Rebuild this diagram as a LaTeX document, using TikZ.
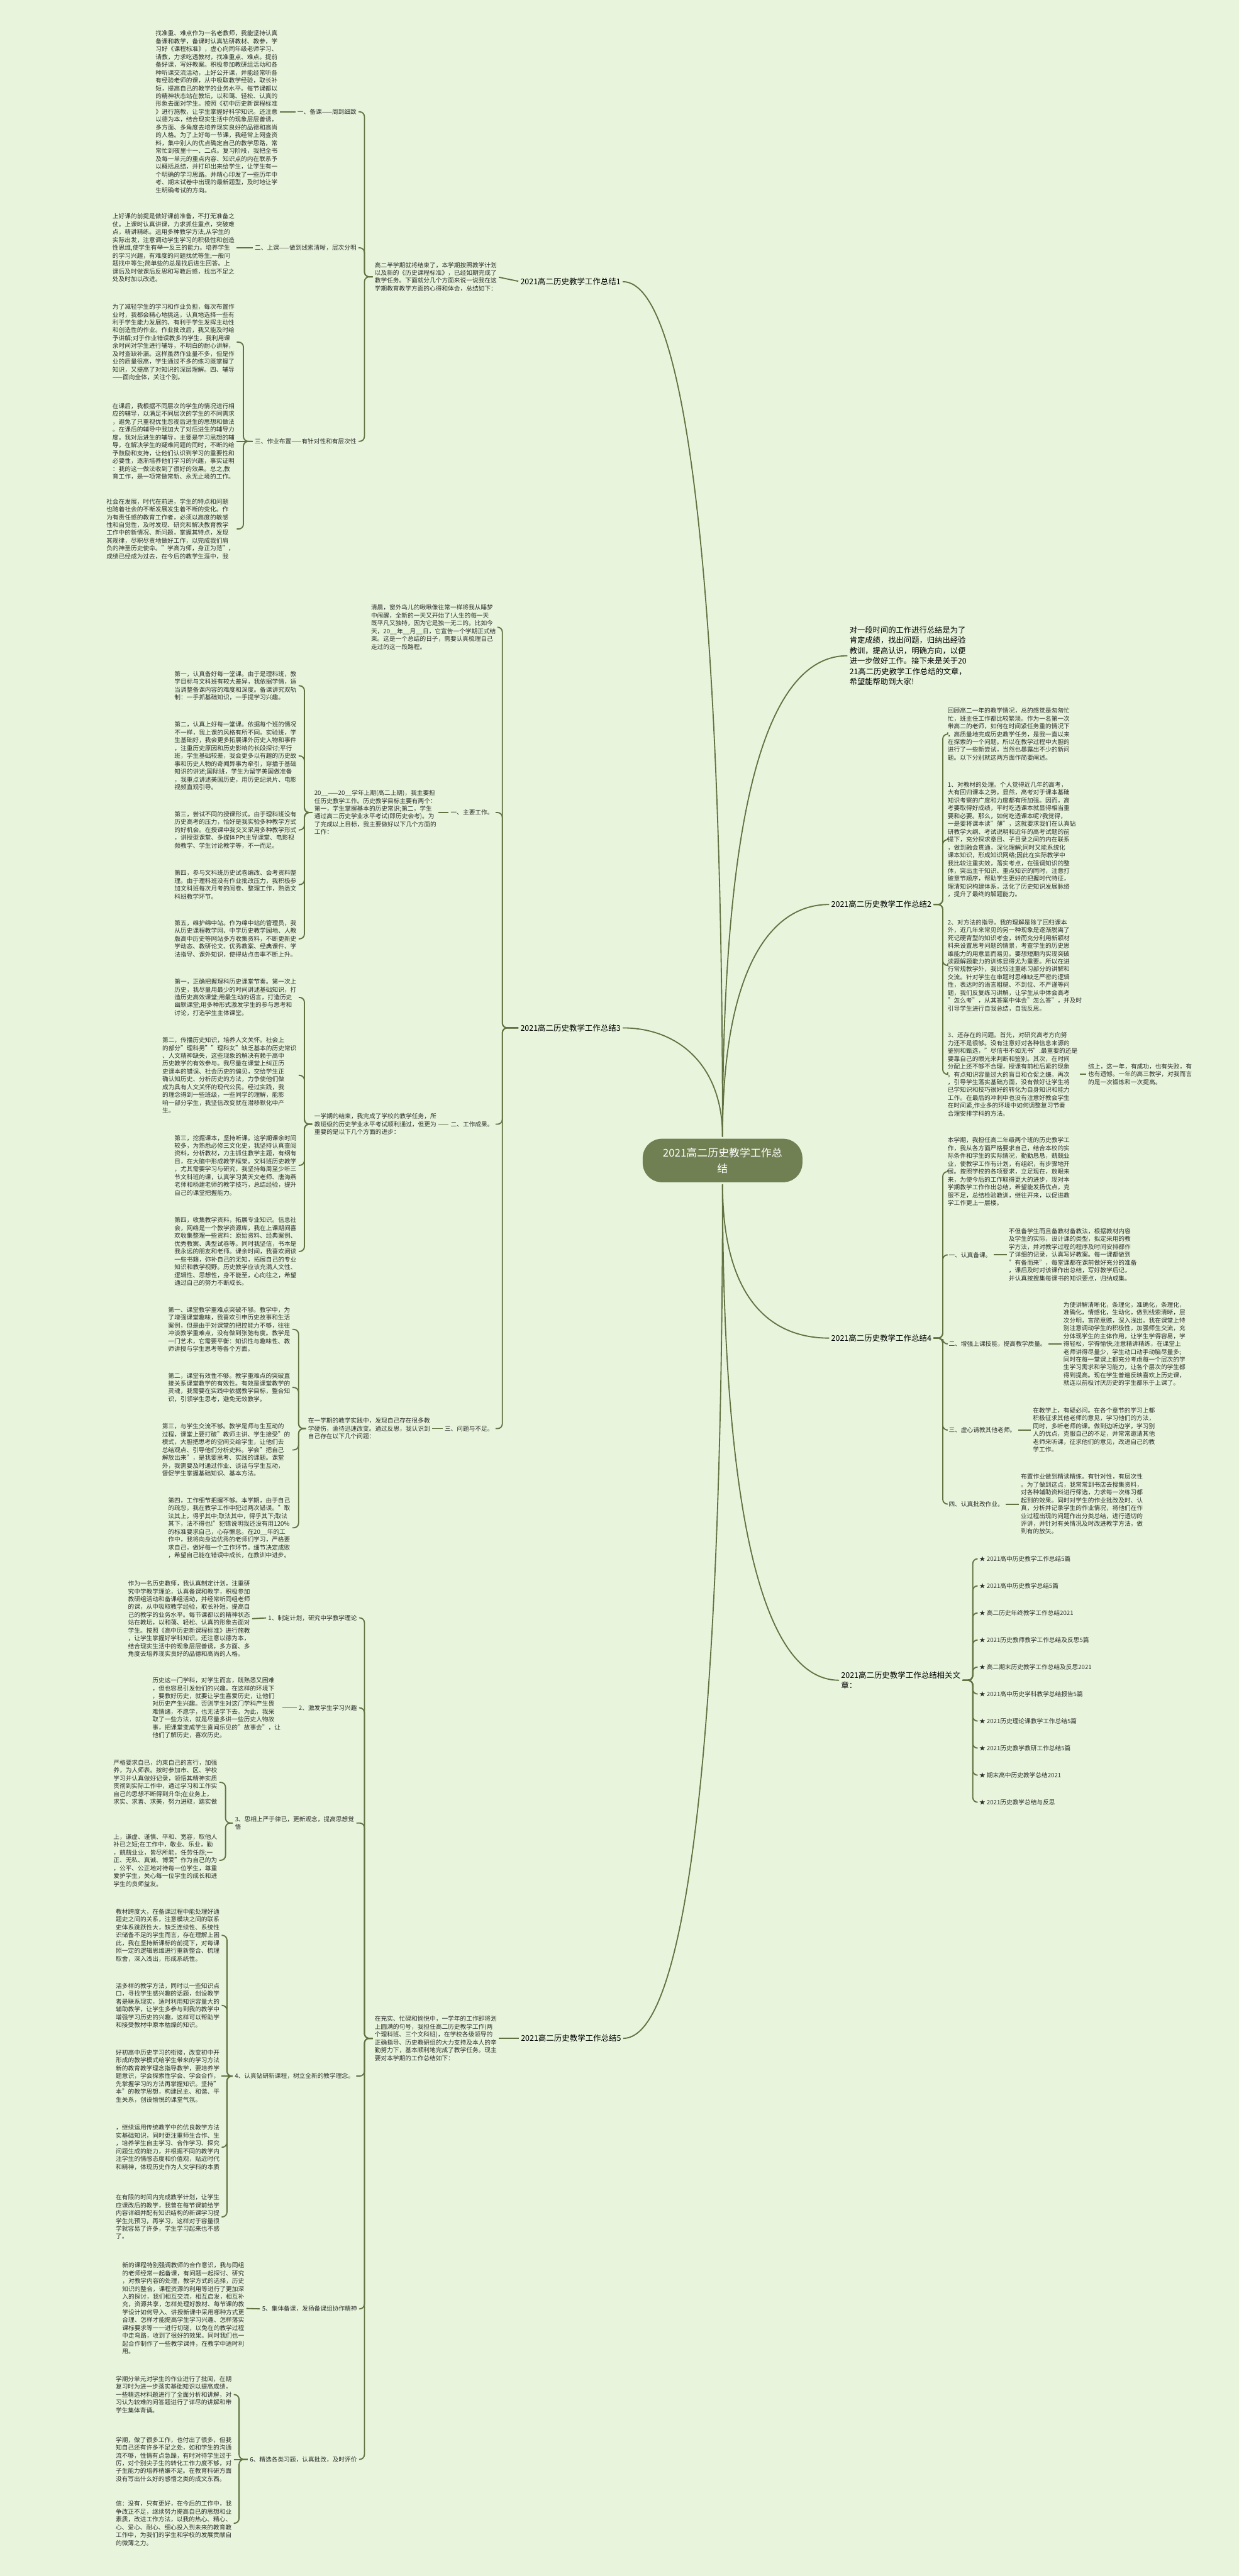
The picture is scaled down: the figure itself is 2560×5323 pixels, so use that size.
\documentclass[tikz,border=0pt]{standalone}
\usepackage{fontspec}
\setmainfont{Noto Sans CJK SC}
\usetikzlibrary{positioning}
\definecolor{bg}{RGB}{232,245,220}
\definecolor{olive}{RGB}{113,128,83}
\definecolor{wire}{RGB}{98,114,66}
\definecolor{ink}{RGB}{45,45,45}
\tikzset{
  conn/.style={draw=wire, line width=1.2pt, rounded corners=5pt, shorten <=2pt, shorten >=2pt},
  para/.style={font=\fontsize{6.3pt}{8.1pt}\selectfont, align=left, inner sep=0pt, text=ink},
  branch/.style={font=\fontsize{8.1pt}{10pt}\selectfont, align=left, inner sep=0pt, text=black},
  intro/.style={font=\fontsize{8pt}{10.7pt}\selectfont, align=left, inner sep=0pt, text=black},
  root/.style={fill=olive, text=white, rounded corners=20pt, minimum width=165pt, minimum height=45pt, align=center, inner sep=4pt, font=\fontsize{11pt}{16pt}\selectfont}
}
\begin{document}
\begin{tikzpicture}[x=0.5pt,y=-0.5pt]
\fill[bg] (0,0) rectangle (2560,5323);
\useasboundingbox (0,0) rectangle (2560,5323);

\node[root] (root) at (1493,2398) {2021高二历史教学工作总\\结};

% branch 1
\node[branch, anchor=west] (b1) at (1075,582) {2021高二历史教学工作总结1};
\node[para, anchor=west] (b1p) at (774,572) {高二半学期就将结束了，本学期按照教学计划\\以及新的《历史课程标准》，已经如期完成了\\教学任务。下面就分几个方面来说一说我在这\\学期教育教学方面的心得和体会，总结如下：};
\coordinate (b1k) at (753,572);
\node[para, anchor=east] (b1l1) at (737,231) {一、备课——周到细致};
\node[para, anchor=east] (b1l2) at (737,512) {二、上课——做到线索清晰，层次分明};
\node[para, anchor=east] (b1l3) at (737,912) {三、作业布置——有针对性和有层次性};
\node[para, anchor=east] (a1) at (574,231) {找准重、难点作为一名老教师，我能坚持认真\\备课和教学，备课时认真钻研教材、教参，学\\习好《课程标准》，虚心向同年级老师学习、\\请教，力求吃透教材，找准重点、难点。提前\\备好课，写好教案。积极参加教研组活动和各\\种听课交流活动，上好公开课，并能经常听各\\有经验老师的课，从中吸取教学经验，取长补\\短，提高自己的教学的业务水平。每节课都以\\的精神状态站在教坛，以和蔼、轻松、认真的\\形象去面对学生。按照《初中历史新课程标准\\》进行施教，让学生掌握好科学知识。还注意\\以德为本，结合现实生活中的现象层层善诱，\\多方面、多角度去培养现实良好的品德和高尚\\的人格。为了上好每一节课，我经常上网查资\\料，集中别人的优点确定自己的教学思路，常\\常忙到夜里十一、二点。复习阶段，我把全书\\及每一单元的重点内容、知识点的内在联系予\\以概括总结，并打印出来给学生，让学生有一\\个明确的学习思路。并精心印发了一些历年中\\考、期末试卷中出现的最新题型，及时地让学\\生明确考试的方向。};
\node[para, anchor=east] (a2) at (485,512) {上好课的前提是做好课前准备，不打无准备之\\仗。上课时认真讲课，力求抓住重点，突破难\\点，精讲精练。运用多种教学方法,从学生的\\实际出发，注意调动学生学习的积极性和创造\\性思维,使学生有举一反三的能力。培养学生\\的学习兴趣，有难度的问题找优等生;一般问\\题找中等生;简单些的总是找后进生回答。上\\课后及时做课后反思和写教后感，找出不足之\\处及时加以改进。};
\coordinate (b1l3k) at (503,912);
\node[para, anchor=east] (a3a) at (485,707) {为了减轻学生的学习和作业负担，每次布置作\\业时，我都会精心地挑选，认真地选择一些有\\利于学生能力发展的、有利于学生发挥主动性\\和创造性的作业。作业批改后，我又能及时给\\予讲解;对于作业错误教多的学生，我利用课\\余时间对学生进行辅导，不明白的耐心讲解，\\及时查缺补漏。这样虽然作业量不多，但是作\\业的质量很高，学生通过不多的练习既掌握了\\知识，又提高了对知识的深层理解。四、辅导\\——面向全体，关注个别。};
\node[para, anchor=east] (a3b) at (485,912) {在课后，我根据不同层次的学生的情况进行相\\应的辅导，以满足不同层次的学生的不同需求\\，避免了只重视优生忽视后进生的思想和做法\\。在课后的辅导中我加大了对后进生的辅导力\\度。我对后进生的辅导，主要是学习思想的辅\\导，在解决学生的疑难问题的同时，不断的给\\予鼓励和支持，让他们认识到学习的重要性和\\必要性，逐渐培养他们学习的兴趣，事实证明\\：我的这一做法收到了很好的效果。总之,教\\育工作，是一项常做常新、永无止境的工作。};
\node[para, anchor=north east] (a3c) at (485,1030) {社会在发展，时代在前进，学生的特点和问题\\也随着社会的不断发展发生着不断的变化。作\\为有责任感的教育工作者，必须以高度的敏感\\性和自觉性，及时发现、研究和解决教育教学\\工作中的新情况、新问题，掌握其特点，发现\\其规律，尽职尽责地做好工作，以完成我们肩\\负的神圣历史使命。"学高为师，身正为范"，\\成绩已经成为过去，在今后的教学生涯中，我};
\draw[conn] (b1.west) -- (b1p.east);
\foreach \n in {b1l1,b1l2,b1l3} \draw[conn] (\n.east) -| (b1k) -- (b1p.west);
\draw[conn] (a1.east) -- (b1l1.west);
\draw[conn] (a2.east) -- (b1l2.west);
\foreach \n in {a3a,a3c} \draw[conn] (\n.east) -| (b1l3k) -- (b1l3.west);
\draw[conn] (a3b.east) -- (b1l3.west);

% intro
\node[intro, anchor=west] (intro) at (1755,1355) {对一段时间的工作进行总结是为了\\肯定成绩，找出问题，归纳出经验\\教训，提高认识，明确方向，以便\\进一步做好工作。接下来是关于20\\21高二历史教学工作总结的文章，\\希望能帮助到大家!};

% branch 2
\node[branch, anchor=east] (b2) at (1925,1869) {2021高二历史教学工作总结2};
\coordinate (b2k) at (1948,1869);
\node[para, anchor=west] (b2a) at (1958,1517) {回顾高二一年的教学情况，总的感觉是匆匆忙\\忙，班主任工作都比较繁琐。作为一名第一次\\带高二的老师，如何在时间紧任务重的情况下\\，高质量地完成历史教学任务，是我一直以来\\在探索的一个问题。所以在教学过程中大胆的\\进行了一些新尝试，当然也暴露出不少的新问\\题。以下分别就这两方面作简要阐述。};
\node[para, anchor=west] (b2b) at (1958,1735) {1、对教材的处理。个人觉得近几年的高考，\\大有回归课本之势。显然，高考对于课本基础\\知识考察的广度和力度都有所加强。因而，高\\考要取得好成绩，平时吃透课本就显得相当重\\要和必要。那么，如何吃透课本呢?我觉得，\\一是要将课本读"薄"，这就要求我们在认真钻\\研教学大纲、考试说明和近年的高考试题的前\\提下，充分探求章目、子目录之间的内在联系\\，做到融会贯通，深化理解;同时又能系统化\\课本知识，形成知识网络;因此在实际教学中\\我比较注重实效，落实考点，在强调知识的整\\体，突出主干知识、重点知识的同时，注意打\\破章节顺序，帮助学生更好的把握时代特征，\\理清知识构建体系，活化了历史知识发展脉络\\，提升了最终的解题能力。};
\node[para, anchor=west] (b2c) at (1958,1995) {2、对方法的指导。我的理解是除了回归课本\\外，近几年来常见的另一种现象是逐渐脱离了\\死记硬背型的知识考查，转而充分利用新颖材\\料来设置思考问题的情景，考查学生的历史思\\维能力的用意显而易见。要想短期内实现突破\\读题解题能力的训练显得尤为重要。所以在进\\行常规教学外，我比较注重练习部分的讲解和\\交流。针对学生在审题时思维缺乏严密的逻辑\\性，表达时的语言粗糙、不到位、不严谨等问\\题，我们反复练习讲解，让学生从中体会高考\\"怎么考"，从其答案中体会"怎么答"，并及时\\引导学生进行自我总结，自我反思。};
\node[para, anchor=west] (b2d) at (1958,2220) {3、还存在的问题。首先，对研究高考方向努\\力还不是很够。没有注意好对各种信息来源的\\鉴别和甄选，"尽信书不如无书".最重要的还是\\要靠自己的眼光来判断和鉴别。其次，在时间\\分配上还不够不合理，授课有前松后紧的现象\\。有点知识容量过大的盲目和仓促之嫌。再次\\，引导学生落实基础方面，没有做好让学生将\\已学知识和技巧很好的转化为自身知识和能力\\工作。在最后的冲刺中也没有注意好教会学生\\在时间紧,作业多的环境中如何调整复习节奏\\合理安排学科的方法。};
\node[para, anchor=west] (b2e) at (2248,2220) {综上，这一年，有成功，也有失败，有\\也有遗憾。一年的高三教学，对我而言\\的是一次锻炼和一次提高。};
\foreach \n in {b2a,b2b,b2c,b2d} \draw[conn] (\n.west) -| (b2k) -- (b2.east);
\draw[conn] (b2d.east) -- (b2e.west);

% branch 3
\node[branch, anchor=west] (b3) at (1075,2124) {2021高二历史教学工作总结3};
\coordinate (b3k) at (1038,2124);
\node[para, anchor=east] (c0) at (1025,1296) {清晨，窗外鸟儿的啾啾像往常一样将我从睡梦\\中闹醒，全新的一天又开始了!人生的每一天\\既平凡又独特，因为它是独一无二的。比如今\\天，20\_\_年\_\_月\_\_日，它宣告一个学期正式结\\束。这是一个总结的日子，需要认真梳理自己\\走过的这一段路程。};
\node[para, anchor=east] (b3l1) at (1020,1679) {一、主要工作。};
\node[para, anchor=east] (b3l2) at (1020,2323) {二、工作成果。};
\node[para, anchor=east] (b3l3) at (1020,2952) {三、问题与不足。};
\foreach \n in {c0,b3l1,b3l2,b3l3} \draw[conn] (\n.east) -| (b3k) -- (b3.west);

\node[para, anchor=east] (c1) at (902,1679) {20\_\_——20\_\_学年上期(高二上期)，我主要担\\任历史教学工作。历史教学目标主要有两个：\\第一，学生掌握基本的历史常识;第二，学生\\通过高二历史学业水平考试(即历史会考)。为\\了完成以上目标，我主要做好以下几个方面的\\工作：};
\coordinate (c1k) at (629,1679);
\node[para, anchor=east] (c1a) at (613,1417) {第一，认真备好每一堂课。由于是理科班，教\\学目标与文科班有较大差异，我依据学情，适\\当调整备课内容的难度和深度。备课讲究双轨\\制：一手抓基础知识，一手提学习兴趣。};
\node[para, anchor=east] (c1b) at (613,1562) {第二，认真上好每一堂课。依据每个班的情况\\不一样，我上课的风格有所不同。实验班，学\\生基础好，我会更多拓展课外历史人物和事件\\，注重历史原因和历史影响的长段探讨;平行\\班，学生基础较差，我会更多以有趣的历史故\\事和历史人物的奇闻异事为牵引，穿插于基础\\知识的讲述;国际班，学生为留学美国做准备\\，我重点讲述美国历史，用历史纪录片、电影\\视频直观引导。};
\node[para, anchor=east] (c1c) at (613,1715) {第三，尝试不同的授课形式。由于理科班没有\\历史高考的压力，恰好是我实验多种教学方式\\的好机会。在授课中我交叉采用多种教学形式\\，讲授型课堂、多媒体PPt主导课堂、电影视\\频教学、学生讨论教学等，不一而足。};
\node[para, anchor=east] (c1d) at (613,1828) {第四，参与文科班历史试卷编改、会考资料整\\理。由于理科班没有作业批改压力，我积极参\\加文科班每次月考的阅卷、整理工作，熟悉文\\科班教学环节。};
\node[para, anchor=east] (c1e) at (613,1940) {第五，维护绵中站。作为绵中站的管理员，我\\从历史课程教学网、中学历史教学园地、人教\\版高中历史等网站多方收集资料，不断更新史\\学动态、教研论文、优秀教案、经典课件、学\\法指导、课外知识，使得站点击率不断上升。};
\draw[conn] (c1.east) -- (b3l1.west);
\foreach \n in {c1a,c1b,c1c,c1d,c1e} \draw[conn] (\n.east) -| (c1k) -- (c1.west);

\node[para, anchor=east] (c2) at (902,2323) {一学期的结束，我完成了学校的教学任务，所\\教班级的历史学业水平考试顺利通过，但更为\\重要的是以下几个方面的进步：};
\coordinate (c2k) at (629,2323);
\node[para, anchor=east] (c2a) at (613,2061) {第一，正确把握理科历史课堂节奏。第一次上\\历史，我尽量用最少的时间讲述基础知识，打\\造历史高效课堂;用最生动的语言，打造历史\\幽默课堂;用多种形式激发学生的参与思考和\\讨论，打造学生主体课堂。};
\node[para, anchor=east] (c2b) at (613,2222) {第二，传播历史知识，培养人文关怀。社会上\\的部分"理科男""理科女"缺乏基本的历史常识\\、人文精神缺失，这些现象的解决有赖于高中\\历史教学的有效参与。我尽量在课堂上纠正历\\史课本的错误、社会历史的偏见，交给学生正\\确认知历史、分析历史的方法，力争使他们做\\成为具有人文关怀的现代公民。经过实践，我\\的理念得到一些班级，一些同学的理解，能影\\响一部分学生，我坚信改变就在潜移默化中产\\生。};
\node[para, anchor=east] (c2c) at (613,2408) {第三，挖掘课本，坚持听课。这学期课余时间\\较多，为熟悉必修三文化史，我坚持认真查阅\\资料，分析教材，力主抓住教学主题，有纲有\\目，在大脑中形成教学框架。文科班历史教学\\，尤其需要学习与研究，我坚持每周至少听三\\节文科班的课，认真学习黄天文老师、唐海燕\\老师和杨建老师的教学技巧，总结经验，提升\\自己的课堂把握能力。};
\node[para, anchor=east] (c2d) at (613,2586) {第四，收集教学资料，拓展专业知识。信息社\\会，网络是一个教学资源库，我在上课期间喜\\欢收集整理一些资料：原始资料、经典案例、\\优秀教案、典型试卷等。同时我坚信，书本是\\我永远的朋友和老师。课余时间，我喜欢阅读\\一些书籍，弥补自己的无知，拓展自己的专业\\知识和教学视野。历史教学应该充满人文性、\\逻辑性、思想性，身不能至，心向往之，希望\\通过自己的努力不断成长。};
\draw[conn] (c2.east) -- (b3l2.west);
\foreach \n in {c2a,c2b,c2c,c2d} \draw[conn] (\n.east) -| (c2k) -- (c2.west);

\node[para, anchor=east] (c3) at (889,2952) {在一学期的教学实践中，发现自己存在很多教\\学硬伤，亟待迅速改变。通过反思，我认识到\\自己存在以下几个问题：};
\coordinate (c3k) at (617,2952);
\node[para, anchor=east] (c3a) at (600,2747) {第一、课堂教学重难点突破不够。教学中，为\\了增强课堂趣味，我喜欢引申历史故事和生活\\案例，但是由于对课堂的把控能力不够，往往\\冲淡教学重难点，没有做到张弛有度。教学是\\一门艺术，它需要平衡：知识性与趣味性、教\\师讲授与学生思考等各个方面。};
\node[para, anchor=east] (c3b) at (600,2867) {第二，课堂有效性不够。教学重难点的突破直\\接关系课堂教学的有效性。有效是课堂教学的\\灵魂，我需要在实践中依据教学目标，整合知\\识，引领学生思考，避免无效教学。};
\node[para, anchor=east] (c3c) at (600,2996) {第三，与学生交流不够。教学是师与生互动的\\过程，课堂上要打破"教师主讲、学生接受"的\\模式，大胆把思考的空间交给学生，让他们去\\总结观点、引导他们分析史料。学会"把自己\\解放出来"，是我要思考、实践的课题。课堂\\外，我需要及时通过作业、谈话与学生互动，\\督促学生掌握基础知识、基本方法。};
\node[para, anchor=east] (c3d) at (600,3157) {第四，工作细节把握不够。本学期，由于自己\\的疏忽，我在教学工作中犯过两次错误。"取\\法其上，得乎其中;取法其中，得乎其下;取法\\其下，法不得也!"犯错说明我还没有用120\%\\的标准要求自己，心存懈怠。在20\_\_年的工\\作中，我将向身边优秀的老师们学习，严格要\\求自己，做好每一个工作环节。细节决定成败\\，希望自己能在错误中成长，在教训中进步。};
\draw[conn] (c3.east) -- (b3l3.west);
\foreach \n in {c3a,c3b,c3c,c3d} \draw[conn] (\n.east) -| (c3k) -- (c3.west);

% branch 4
\node[branch, anchor=east] (b4) at (1925,2765) {2021高二历史教学工作总结4};
\coordinate (b4k) at (1948,2765);
\node[para, anchor=west] (b4a) at (1958,2421) {本学期，我担任高二年级两个班的历史教学工\\作，我从各方面严格要求自己，结合本校的实\\际条件和学生的实际情况，勤勤恳恳，兢兢业\\业，使教学工作有计划，有组织，有步骤地开\\展。按照学校的各项要求，立足现在，放眼未\\来，为使今后的工作取得更大的进步，现对本\\学期教学工作作出总结，希望能发扬优点，克\\服不足，总结检验教训，继往开来，以促进教\\学工作更上一层楼。};
\node[para, anchor=west] (b4l1) at (1960,2593) {一、认真备课。};
\node[para, anchor=west] (b4l2) at (1960,2777) {二、增强上课技能，提高教学质量。};
\node[para, anchor=west] (b4l3) at (1960,2955) {三、虚心请教其他老师。};
\node[para, anchor=west] (b4l4) at (1960,3108) {四、认真批改作业。};
\node[para, anchor=west] (e1) at (2084,2593) {不但备学生而且备教材备教法，根据教材内容\\及学生的实际，设计课的类型，拟定采用的教\\学方法，并对教学过程的程序及时间安排都作\\了详细的记录，认真写好教案。每一课都做到\\"有备而来"，每堂课都在课前做好充分的准备\\，课后及时对该课作出总结，写好教学后记，\\并认真按搜集每课书的知识要点，归纳成集。};
\node[para, anchor=west] (e2) at (2197,2777) {为使讲解清晰化，条理化，准确化，条理化，\\准确化，情感化，生动化，做到线索清晰，层\\次分明，言简意赅，深入浅出。我在课堂上特\\别注意调动学生的积极性，加强师生交流，充\\分体现学生的主体作用，让学生学得容易，学\\得轻松，学得愉快;注意精讲精练，在课堂上\\老师讲得尽量少，学生动口动手动脑尽量多;\\同时在每一堂课上都充分考虑每一个层次的学\\生学习需求和学习能力，让各个层次的学生都\\得到提高。现在学生普遍反映喜欢上历史课，\\就连以前极讨厌历史的学生都乐于上课了。};
\node[para, anchor=west] (e3) at (2134,2955) {在教学上，有疑必问。在各个章节的学习上都\\积极征求其他老师的意见，学习他们的方法，\\同时，多听老师的课。做到边听边学，学习别\\人的优点，克服自己的不足，并常常邀请其他\\老师来听课，征求他们的意见，改进自己的教\\学工作。};
\node[para, anchor=west] (e4) at (2109,3108) {布置作业做到精读精练。有针对性，有层次性\\。为了做到这点，我常常到书店去搜集资料，\\对各种辅助资料进行筛选，力求每一次练习都\\起到的效果。同时对学生的作业批改及时、认\\真，分析并记录学生的作业情况，将他们在作\\业过程出现的问题作出分类总结，进行透切的\\评讲，并针对有关情况及时改进教学方法，做\\到有的放矢。};
\foreach \n in {b4a,b4l1,b4l2,b4l3,b4l4} \draw[conn] (\n.west) -| (b4k) -- (b4.east);
\draw[conn] (b4l1.east) -- (e1.west);
\draw[conn] (b4l2.east) -- (e2.west);
\draw[conn] (b4l3.east) -- (e3.west);
\draw[conn] (b4l4.east) -- (e4.west);

% related articles
\node[branch, anchor=east] (rel) at (1985,3472) {2021高二历史教学工作总结相关文\\章：};
\coordinate (relk) at (2010,3472);
\foreach \t [count=\i] in {2021高中历史教学工作总结5篇, 2021高中历史教学总结5篇, 高二历史年终教学工作总结2021, 2021历史教师教学工作总结及反思5篇, 高二期末历史教学工作总结及反思2021, 2021高中历史学科教学总结报告5篇, 2021历史理论课教学工作总结5篇, 2021历史教学教研工作总结5篇, 期末高中历史教学总结2021, 2021历史教学总结与反思}
  \node[para, anchor=west] (r\i) at (2023,{3221+55.9*(\i-1)}) {★ \t};
\foreach \i in {1,...,10} \draw[conn] (r\i.west) -| (relk) -- (rel.east);

% branch 5
\node[branch, anchor=west] (b5) at (1076,4212) {2021高二历史教学工作总结5};
\node[para, anchor=west] (b5p) at (774,4212) {在充实、忙碌和愉悦中，一学年的工作即将划\\上圆满的句号，我担任高二历史教学工作(两\\个理科班、三个文科班)，在学校各级领导的\\正确指导、历史教研组的大力支持及本人的辛\\勤努力下，基本顺利地完成了教学任务。现主\\要对本学期的工作总结如下：};
\coordinate (b5k) at (753,4212);
\node[para, anchor=east] (d1) at (738,3343) {1、制定计划，研究中学教学理论};
\node[para, anchor=east] (d2) at (738,3529) {2、激发学生学习兴趣};
\node[para, anchor=west] (d3) at (485,3767) {3、思相上严于律已，更新观念，提高思想觉\\悟};
\node[para, anchor=east] (d4) at (732,4290) {4、认真钻研新课程，树立全新的教学理念。};
\node[para, anchor=east] (d5) at (738,4771) {5、集体备课，发扬备课组协作精神};
\node[para, anchor=east] (d6) at (738,5082) {6、精选各类习题，认真批改，及时评价};
\draw[conn] (b5.west) -- (b5p.east);
\foreach \n in {d1,d2,d3,d4,d5,d6} \draw[conn] (\n.east) -| (b5k) -- (b5p.west);

\node[para, anchor=east] (f1) at (517,3345) {作为一名历史教师，我认真制定计划，注重研\\究中学教学理论，认真备课和教学，积极参加\\教研组活动和备课组活动，并经常听同组老师\\的课，从中吸取教学经验，取长补短，提高自\\己的教学的业务水平。每节课都以的精神状态\\站在教坛，以和蔼、轻松、认真的形象去面对\\学生。按照《高中历史新课程标准》进行施教\\，让学生掌握好学科知识。还注意以德为本，\\结合现实生活中的现象层层善诱，多方面、多\\角度去培养现实良好的品德和高尚的人格。};
\node[para, anchor=east] (f2) at (580,3529) {历史这一门学科，对学生而言，既熟悉又困难\\，但也容易引发他们的兴趣。在这样的环境下\\，要教好历史，就要让学生喜爱历史，让他们\\对历史产生兴趣。否则学生对这门学科产生畏\\难情绪，不愿学，也无法学下去。为此，我采\\取了一些方法，就是尽量多讲一些历史人物故\\事，把课堂变成学生喜闻乐见的"故事会"，让\\他们了解历史，喜欢历史。};
\draw[conn] (f1.east) -- (d1.west);
\draw[conn] (f2.east) -- (d2.west);

\coordinate (d3k) at (466,3767);
\node[para, anchor=east] (f3a) at (449,3683) {严格要求自已，约束自己的言行，加强\\养，为人师表。按时参加市、区、学校\\学习并认真做好记录，领悟其精神实质\\贯彻到实际工作中，通过学习和工作实\\自己的思想不断得到升华;在业务上，\\求实、求善、求美，努力进取，踏实做};
\node[para, anchor=east] (f3b) at (449,3844) {上，谦虚、谨慎、平和、宽容，取他人\\补已之短;在工作中，敬业、乐业，勤\\，兢兢业业，皆尽所能，任劳任怨;一\\正、无私、真诚、博爱"作为自己的为\\，公平、公正地对待每一位学生，尊重\\爱护学生，关心每一位学生的成长和进\\学生的良师益友。};
\foreach \n in {f3a,f3b} \draw[conn] (\n.east) -| (d3k) -- (d3.west);

\coordinate (d4k) at (469,4290);
\node[para, anchor=east] (f4a) at (454,3999) {教材跨度大，在备课过程中能处理好通\\题史之间的关系，注意模块之间的联系\\史体系跳跃性大，缺乏连续性、系统性\\识储备不足的学生而言，存在理解上困\\此，我在坚持新课标的前提下，对每课\\照一定的逻辑思维进行重新整合、梳理\\取舍，深入浅出，形成系统性。};
\node[para, anchor=east] (f4b) at (454,4144) {活多样的教学方法，同时以一些知识点\\口，寻找学生感兴趣的话题，创设教学\\者是联系现实，适时利用知识容量大的\\辅助教学，让学生多参与到我的教学中\\增强学习历史的兴趣，这样可以帮助学\\和接受教材中原本枯燥的知识。};
\node[para, anchor=east] (f4c) at (454,4290) {好初高中历史学习的衔接，改变初中开\\形成的教学模式给学生带来的学习方法\\新的教育教学理念指导教学，要培养学\\题意识，学会探索性学会、学会合作，\\先掌握学习的方法再掌握知识。坚持"\\本"的教学思想，构建民主、和谐、平\\生关系，创设愉悦的课堂气氛。};
\node[para, anchor=east] (f4d) at (454,4437) {，继续运用传统教学中的优良教学方法\\实基础知识，同时更注重师生合作、生\\，培养学生自主学习、合作学习、探究\\问题生成的能力，并根据不同的教学内\\注学生的情感态度和价值观，贴近时代\\和精神，体现历史作为人文学科的本质};
\node[para, anchor=east] (f4e) at (454,4581) {在有限的时间内完成教学计划，让学生\\应课改后的教学，我曾在每节课前给学\\内容详细并配有知识结构的新课学习提\\学生先预习，再学习，这样对于容量很\\学就容易了许多，学生学习起来也不感\\了。};
\foreach \n in {f4a,f4b,f4d,f4e} \draw[conn] (\n.east) -| (d4k) -- (d4.west);
\draw[conn] (f4c.east) -- (d4.west);

\node[para, anchor=east] (f5) at (505,4770) {新的课程特别强调教师的合作意识，我与同组\\的老师经常一起备课，有问题一起探讨、研究\\，对教学内容的处理，教学方式的选择，历史\\知识的整合，课程资源的利用等进行了更加深\\入的探讨，我们相互交流，相互启发，相互补\\充，资源共享，怎样处理好教材、每节课的教\\学设计如何导入、讲授新课中采用哪种方式更\\合理、怎样才能提高学生学习兴趣、怎样落实\\课标要求等一一进行切磋，以免在的教学过程\\中走弯路，收到了很好的效果。同时我们也一\\起合作制作了一些教学课件，在教学中适时利\\用。};
\draw[conn] (f5.east) -- (d5.west);

\coordinate (d6k) at (494,5082);
\node[para, anchor=east] (f6a) at (479,4948) {学期分单元对学生的作业进行了批阅，在期\\复习时为进一步落实基础知识以提高成绩，\\一些精选材料题进行了全面分析和讲解，对\\习认为较难的问答题进行了详尽的讲解和带\\学生集体背诵。};
\node[para, anchor=east] (f6b) at (479,5082) {学期，做了很多工作，也付出了很多，但我\\知自己还有许多不足之处，如和学生的沟通\\流不够，性情有点急躁，有时对待学生过于\\厉，对个别尖子生的转化工作力度不够，对\\子生能力的培养稍嫌不足。在教育科研方面\\没有写出什么好的感悟之类的成文东西。};
\node[para, anchor=east] (f6c) at (479,5214) {信：没有，只有更好，在今后的工作中，我\\争改正不足，继续努力提高自已的思想和业\\素质，改进工作方法，以我的热心、精心、\\心、爱心、耐心、细心投入到未来的教育教\\工作中，为我们的学生和学校的发展贡献自\\的微薄之力。};
\foreach \n in {f6a,f6c} \draw[conn] (\n.east) -| (d6k) -- (d6.west);
\draw[conn] (f6b.east) -- (d6.west);

% root curves
\draw[conn] (root.north) .. controls +(0,-1000) and +(150,0) .. (b1.east);
\draw[conn] (root.north) .. controls +(0,-650) and +(-180,0) .. (intro.west);
\draw[conn] (root.north) .. controls +(0,-320) and +(-140,0) .. (b2.west);
\draw[conn] (root.north) .. controls +(0,-150) and +(120,0) .. (b3.east);
\draw[conn] (root.south) .. controls +(0,220) and +(-140,0) .. (b4.west);
\draw[conn] (root.south) .. controls +(0,650) and +(-170,0) .. (rel.west);
\draw[conn] (root.south) .. controls +(0,1100) and +(140,0) .. (b5.east);
\end{tikzpicture}
\end{document}
